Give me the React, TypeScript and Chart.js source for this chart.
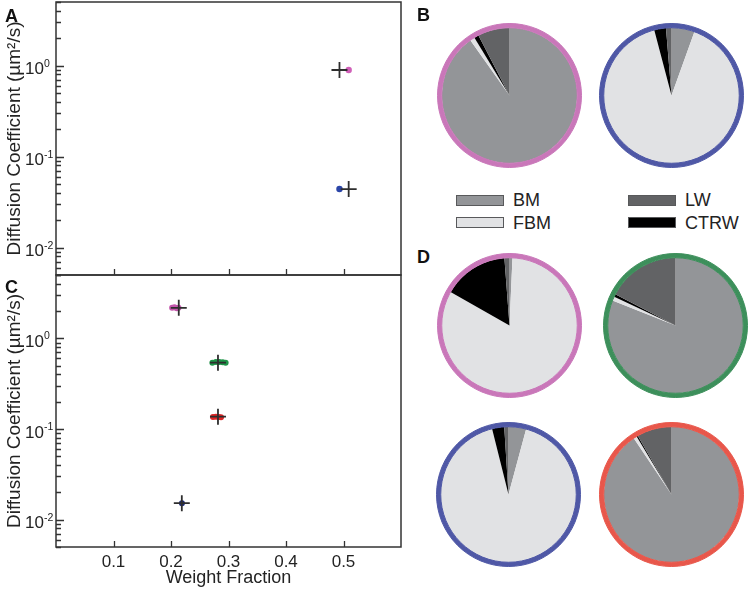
import React, { useEffect, useRef } from 'react';
import { Chart, registerables } from 'chart.js';

Chart.register(...registerables);

const FONT = '"Liberation Sans", Arial, Helvetica, sans-serif';
const TEXT = '#232323';
const AXIS = '#333333';

// ---------- scatter data ----------
// Panel A
const aPinkDotX = [0.509];
const aPinkDotY = [0.895];
const aBlueDotX = [0.493];
const aBlueDotY = [0.044];
const aCrossX = [0.493, 0.509];
const aCrossY = [0.895, 0.044];

// Panel C
const cPinkDotX = [0.202, 0.206, 0.210, 0.213];
const cPinkDotY = [2.17, 2.2, 2.15, 2.17];
const cGreenDotX = [0.272, 0.278, 0.284, 0.290, 0.295];
const cGreenDotY = [0.54, 0.55, 0.55, 0.545, 0.54];
const cRedDotX = [0.273, 0.278, 0.283, 0.287];
const cRedDotY = [0.136, 0.137, 0.136, 0.135];
const cBlueDotX = [0.219];
const cBlueDotY = [0.0152];
const cCrossX = [0.2135, 0.2817, 0.2817, 0.2188];
const cCrossY = [2.17, 0.54, 0.137, 0.0152];

const xTickValues = [0.1, 0.2, 0.3, 0.4, 0.5];
const xTickLabels = ['0.1', '0.2', '0.3', '0.4', '0.5'];
const yMajorValues = [0.01, 0.1, 1];
const yMajorExponents = ['-2', '-1', '0'];
const yMinorMultipliers = [2, 3, 4, 5, 6, 7, 8, 9];
const yDecades = [0.001, 0.01, 0.1, 1];

const yTitle = 'Diffusion Coefficient (\u00b5m\u00b2/s)';
const xTitle = 'Weight Fraction';

// ---------- pie data ----------
const sliceLabels = ['BM', 'FBM', 'CTRW', 'LW'];
const sliceColors = ['#939598', '#e1e2e4', '#000000', '#626365'];
const pieB1 = [90.2, 1.1, 1.1, 7.6];
const pieB2 = [5.5, 90.4, 2.8, 1.3];
const pieD1 = [0.7, 82.5, 15.6, 1.2];
const pieD2 = [81.0, 1.0, 0.6, 17.4];
const pieD3 = [4.2, 91.9, 2.9, 1.0];
const pieD4 = [90.6, 0.8, 0.3, 8.3];

const legendLabels = ['BM', 'FBM', 'LW', 'CTRW'];
const legendColors = ['#939598', '#e1e2e4', '#626365', '#000000'];

const PINK = '#c977b9';
const BLUE = '#4f58a6';
const GREEN = '#3d8f5b';
const RED = '#e8574b';

const frameTicks = {
  id: 'frameTicks',
  afterDatasetsDraw(chart: any) {
    const { ctx, chartArea: a, scales } = chart;
    const xs = scales.x;
    const ys = scales.y;
    ctx.save();
    ctx.strokeStyle = AXIS;
    ctx.lineWidth = 1.5;
    ctx.strokeRect(a.left, a.top, a.right - a.left, a.bottom - a.top);
    ctx.lineWidth = 1.3;
    ctx.beginPath();
    for (const v of xTickValues) {
      const px = Math.round(xs.getPixelForValue(v)) + 0.5;
      ctx.moveTo(px, a.bottom);
      ctx.lineTo(px, a.bottom - 6);
    }
    for (const d of yDecades) {
      for (const m of yMinorMultipliers) {
        const v = d * m;
        if (v < ys.min || v > ys.max) continue;
        const py = Math.round(ys.getPixelForValue(v)) + 0.5;
        ctx.moveTo(a.left, py);
        ctx.lineTo(a.left + 5, py);
      }
    }
    for (const v of yMajorValues) {
      const py = Math.round(ys.getPixelForValue(v)) + 0.5;
      ctx.moveTo(a.left, py);
      ctx.lineTo(a.left + 8, py);
    }
    ctx.stroke();
    ctx.fillStyle = TEXT;
    ctx.textAlign = 'left';
    ctx.textBaseline = 'alphabetic';
    yMajorValues.forEach((v, i) => {
      const py = ys.getPixelForValue(v);
      ctx.font = `17px ${FONT}`;
      const w = ctx.measureText('10').width;
      ctx.fillText('10', 25, py + 8.5);
      ctx.font = `10.5px ${FONT}`;
      ctx.fillText(yMajorExponents[i], 25 + w, py + 1);
    });
    ctx.restore();
  },
};

function dots(xs: number[], ys: number[], color: string, r = 3) {
  return {
    data: xs.map((x, i) => ({ x, y: ys[i] })),
    pointStyle: 'circle',
    pointRadius: r,
    pointBackgroundColor: color,
    pointBorderWidth: 0,
    pointBorderColor: color,
  };
}

function crosses(xs: number[], ys: number[]) {
  return {
    data: xs.map((x, i) => ({ x, y: ys[i] })),
    pointStyle: 'cross',
    pointRadius: 8,
    pointBorderColor: '#2e2e2e',
    pointBorderWidth: 1.8,
    pointBackgroundColor: '#2e2e2e',
  };
}

function ScatterPanel(props: {
  top: number;
  height: number;
  padTop: number;
  padBottom: number;
  showX: boolean;
  xAxisHeight: number;
  datasets: any[];
}) {
  const ref = useRef<HTMLCanvasElement>(null);
  useEffect(() => {
    const chart = new Chart(ref.current as HTMLCanvasElement, {
      type: 'scatter',
      data: { datasets: props.datasets },
      options: {
        animation: false,
        responsive: false,
        devicePixelRatio: 1,
        layout: { autoPadding: false, padding: { top: props.padTop, right: 9, bottom: props.padBottom, left: 0 } },
        plugins: { legend: { display: false }, tooltip: { enabled: false } },
        scales: {
          x: {
            type: 'linear',
            min: 0,
            max: 0.6,
            display: props.showX,
            grid: { display: false, drawTicks: false },
            border: { display: false },
            afterBuildTicks: (s: any) => {
              s.ticks = xTickValues.map((v) => ({ value: v }));
            },
            afterFit: (s: any) => {
              s.height = props.xAxisHeight;
            },
            ticks: {
              autoSkip: false,
              maxRotation: 0,
              padding: 5,
              color: TEXT,
              font: { family: FONT, size: 17 },
              callback: (_v: any, i: number) => xTickLabels[i],
            },
            title: {
              display: true,
              text: xTitle,
              color: TEXT,
              font: { family: FONT, size: 18 },
              padding: { top: 0, bottom: 1 },
            },
          } as any,
          y: {
            type: 'logarithmic',
            min: 0.005,
            max: 5,
            grid: { display: false, drawTicks: false },
            border: { display: false },
            ticks: { display: false },
            afterFit: (s: any) => {
              s.width = 56;
            },
            title: {
              display: true,
              text: yTitle,
              color: TEXT,
              font: { family: FONT, size: 19 },
              padding: { top: 3, bottom: 0 },
            },
          } as any,
        },
      } as any,
      plugins: [frameTicks],
    });
    return () => chart.destroy();
  }, []);
  return (
    <canvas
      ref={ref}
      width={410}
      height={props.height}
      style={{ position: 'absolute', left: 0, top: props.top, width: 410, height: props.height }}
    />
  );
}

function Pie(props: { cx: number; cy: number; values: number[]; ring: string }) {
  const ref = useRef<HTMLCanvasElement>(null);
  const size = 145;
  useEffect(() => {
    const chart = new Chart(ref.current as HTMLCanvasElement, {
      type: 'pie',
      data: {
        labels: sliceLabels,
        datasets: [
          {
            data: [1],
            backgroundColor: [props.ring],
            borderColor: props.ring,
            borderWidth: 1,
            hoverOffset: 0,
            offset: 0,
            weight: 1,
          } as any,
          {
            data: props.values,
            backgroundColor: sliceColors,
            borderWidth: 0,
            hoverOffset: 0,
            offset: 0,
            weight: 16,
          } as any,
        ],
      },
      options: {
        animation: false,
        responsive: false,
        devicePixelRatio: 1,
        layout: { padding: 0 },
        plugins: { legend: { display: false }, tooltip: { enabled: false } },
      } as any,
    });
    return () => chart.destroy();
  }, []);
  return (
    <canvas
      ref={ref}
      width={size}
      height={size}
      style={{ position: 'absolute', left: props.cx - size / 2, top: props.cy - size / 2, width: size, height: size }}
    />
  );
}

const letterStyle = (left: number, top: number): React.CSSProperties => ({
  position: 'absolute',
  left,
  top,
  fontFamily: FONT,
  fontWeight: 'bold',
  fontSize: 18,
  lineHeight: '18px',
  color: '#111',
});

function LegendItem(props: { left: number; cy: number; label: string; color: string }) {
  return (
    <>
      <div
        style={{
          position: 'absolute',
          left: props.left,
          top: props.cy - 5.5,
          width: 46,
          height: 9,
          background: props.color,
          border: '1px solid #58595b',
        }}
      />
      <div
        style={{
          position: 'absolute',
          left: props.left + 57,
          top: props.cy - 11,
          height: 22,
          lineHeight: '22px',
          fontFamily: FONT,
          fontSize: 18,
          color: TEXT,
          whiteSpace: 'nowrap',
        }}
      >
        {props.label}
      </div>
    </>
  );
}

export default function App() {
  const aDatasets = [
    crosses(aCrossX, aCrossY),
    dots(aPinkDotX, aPinkDotY, '#d060b8', 3.2),
    dots(aBlueDotX, aBlueDotY, '#2b45a8', 3.2),
  ];
  const cDatasets = [
    crosses(cCrossX, cCrossY),
    dots(cPinkDotX, cPinkDotY, '#c456ac', 3),
    dots(cGreenDotX, cGreenDotY, '#1f9448', 3),
    dots(cRedDotX, cRedDotY, '#dc2525', 3),
    dots(cBlueDotX, cBlueDotY, '#1c2b78', 3),
  ];
  return (
    <div style={{ position: 'absolute', left: 0, top: 0, width: 750, height: 590, background: '#fff', overflow: 'hidden' }}>
      <ScatterPanel top={0} height={278} padTop={2} padBottom={3} showX={false} xAxisHeight={0} datasets={aDatasets} />
      <ScatterPanel top={270} height={320} padTop={5} padBottom={0} showX={true} xAxisHeight={43} datasets={cDatasets} />

      <Pie cx={509.5} cy={95.5} values={pieB1} ring={PINK} />
      <Pie cx={671.5} cy={95.5} values={pieB2} ring={BLUE} />
      <Pie cx={509.5} cy={325.5} values={pieD1} ring={PINK} />
      <Pie cx={675.5} cy={325.5} values={pieD2} ring={GREEN} />
      <Pie cx={508.5} cy={494} values={pieD3} ring={BLUE} />
      <Pie cx={671.5} cy={494} values={pieD4} ring={RED} />

      <LegendItem left={456} cy={200} label={legendLabels[0]} color={legendColors[0]} />
      <LegendItem left={456} cy={222.5} label={legendLabels[1]} color={legendColors[1]} />
      <LegendItem left={628} cy={200} label={legendLabels[2]} color={legendColors[2]} />
      <LegendItem left={628} cy={222.5} label={legendLabels[3]} color={legendColors[3]} />

      <div style={letterStyle(5, 7)}>A</div>
      <div style={letterStyle(417, 6)}>B</div>
      <div style={letterStyle(5, 278)}>C</div>
      <div style={letterStyle(417, 248)}>D</div>
    </div>
  );
}
